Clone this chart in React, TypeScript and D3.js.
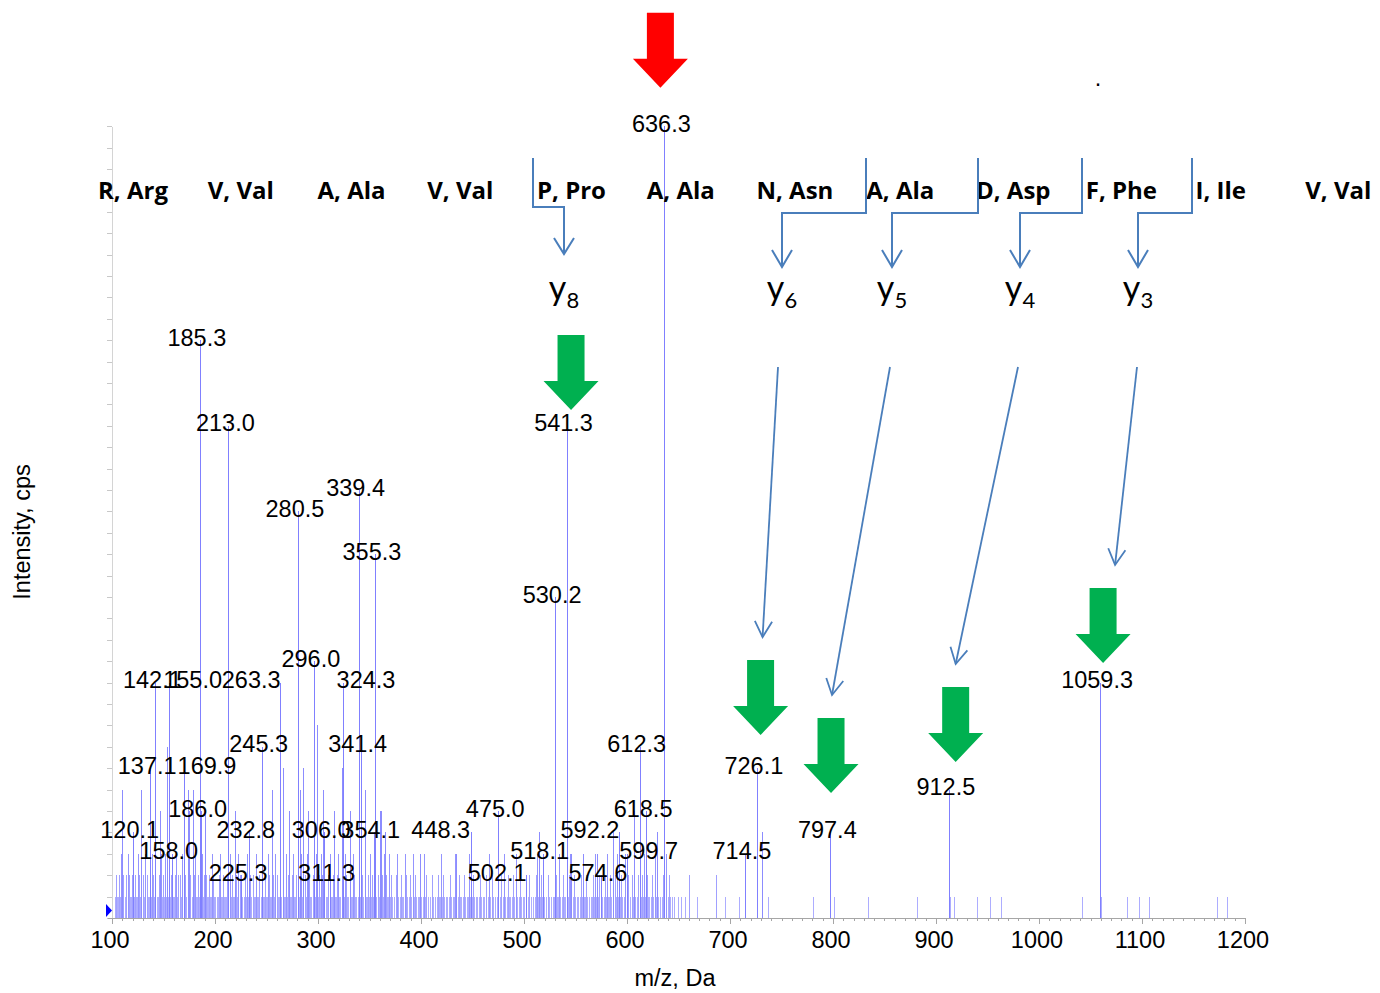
import React from "react";
import * as d3 from "d3";

// Labelled fragment peaks: [m/z, intensity in counts]
const labeledPeaks: [number, number][] = [
  [120.1, 4], [137.1, 7], [142.1, 11], [155.0, 11], [158.0, 3], [169.9, 7],
  [185.3, 27], [186.0, 5], [213.0, 23], [225.3, 2], [232.8, 4], [245.3, 8],
  [263.3, 11], [280.5, 19], [296.0, 12], [306.0, 4], [311.3, 2], [324.3, 11],
  [339.4, 20], [341.4, 8], [354.1, 4], [355.3, 17], [448.3, 4], [475.0, 5],
  [502.1, 2], [518.1, 3], [530.2, 15], [541.3, 23], [574.6, 2], [592.2, 4],
  [599.7, 3], [612.3, 8], [618.5, 5], [636.3, 37], [714.5, 3], [726.1, 7],
  [797.4, 4], [912.5, 6], [1059.3, 11],
];

// Unlabelled mid-size peaks: [m/z, counts]
const minorPeaks: [number, number][] = [
  [109.4, 6], [128.2, 6], [146.6, 5], [153.5, 8], [173.4, 6], [175.2, 5],
  [178.6, 6], [190.4, 5], [219.0, 5], [255.3, 6], [266.1, 7], [271.8, 5],
  [283.0, 6], [285.8, 7], [290.6, 5], [298.7, 9], [304.4, 6], [316.0, 5],
  [323.1, 7], [330.6, 5], [346.0, 6], [360.2, 5], [361.2, 5], [365.2, 4],
  [399.0, 3], [434.0, 3], [515.0, 4], [546.0, 3], [557.0, 3], [570.6, 3],
  [586.6, 4], [606.5, 5], [629.0, 4], [730.8, 4],
];

// Baseline noise, one count high
const noise1: number[] = [
  103.1, 104.6, 105.9, 107.3, 108.2, 109.8, 111.0, 112.4, 113.9, 115.1, 116.0, 117.6,
  118.9, 120.5, 121.7, 123.0, 124.2, 125.8, 127.1, 128.3, 129.9, 131.0, 132.2, 133.8,
  135.0, 136.4, 138.0, 139.2, 140.5, 141.7, 143.3, 144.8, 146.0, 147.2, 148.9, 150.1,
  151.4, 152.6, 154.0, 156.3, 157.5, 159.0, 160.4, 161.6, 163.1, 164.3, 165.8, 167.0,
  168.4, 170.8, 172.0, 173.5, 174.7, 176.2, 177.4, 178.9, 180.1, 181.5, 182.8, 184.2,
  187.1, 188.3, 189.6, 190.9, 192.3, 193.5, 195.0, 196.2, 197.7, 198.9, 200.3, 201.5,
  202.9, 204.2, 205.6, 206.8, 208.3, 209.5, 210.8, 212.1, 214.4, 215.7, 217.0, 218.4,
  219.6, 221.1, 222.3, 223.8, 226.5, 227.9, 229.2, 230.4, 231.7, 234.0, 235.3, 236.7,
  238.0, 239.2, 240.6, 241.9, 243.1, 244.4, 246.6, 247.9, 249.3, 250.5, 251.8, 253.2,
  254.4, 255.9, 257.1, 258.4, 259.8, 261.0, 262.2, 264.5, 265.8, 267.1, 268.3, 269.8,
  271.0, 272.4, 273.6, 275.1, 276.3, 277.7, 279.0, 281.7, 283.0, 284.2, 285.6, 286.9,
  288.1, 289.5, 290.8, 292.2, 293.4, 294.7, 297.3, 298.6, 299.9, 301.1, 302.4, 303.8,
  305.0, 307.3, 308.6, 309.9, 312.5, 313.8, 315.0, 316.4, 317.6, 319.0, 320.3, 321.5,
  322.9, 325.6, 326.9, 328.1, 329.5, 330.7, 332.0, 333.4, 334.6, 336.0, 337.2, 338.5,
  340.6, 342.7, 344.0, 345.3, 346.6, 347.9, 349.2, 350.5, 351.8, 353.0, 356.5, 357.8,
  359.1, 360.4, 361.7, 363.0, 364.3, 365.6, 367.0, 368.4, 370.1, 372.3, 374.0, 376.2,
  377.8, 379.5, 381.6, 383.0, 384.9, 386.4, 388.3, 390.0, 391.8, 393.2, 395.1, 396.7,
  398.4, 400.3, 401.9, 403.6, 405.2, 406.8, 408.7, 410.3, 412.0, 413.8, 415.4, 417.1,
  418.9, 420.5, 422.2, 423.9, 425.6, 427.3, 429.0, 430.8, 432.4, 434.1, 435.9, 437.5,
  439.2, 440.9, 442.6, 444.3, 446.0, 447.6, 449.7, 451.4, 453.1, 454.8, 456.5, 458.2,
  459.9, 461.6, 463.3, 465.0, 466.8, 468.5, 470.2, 471.9, 473.6, 476.4, 478.1, 479.8,
  481.6, 483.3, 485.0, 486.7, 488.4, 490.2, 491.9, 493.6, 495.3, 497.0, 498.7, 500.4,
  503.6, 505.3, 507.0, 508.7, 510.5, 512.2, 513.9, 515.6, 517.0, 519.5, 521.2, 522.9,
  524.6, 526.3, 528.0, 529.4, 531.6, 533.3, 535.0, 536.7, 538.4, 540.1, 542.5, 544.2,
  545.9, 547.6, 549.3, 551.0, 552.7, 554.4, 556.1, 557.8, 559.5, 561.2, 562.9, 564.6,
  566.3, 568.0, 569.7, 571.4, 573.1, 576.0, 577.7, 579.4, 581.1, 582.8, 584.5, 586.2,
  587.9, 589.6, 591.0, 593.5, 595.2, 596.9, 598.3, 601.2, 602.9, 604.6, 606.3, 608.0,
  609.7, 611.1, 613.6, 615.3, 617.0, 620.1, 621.8, 623.5, 625.2, 626.9, 628.6, 630.3,
  632.0, 633.8, 635.4, 638.0, 639.7, 641.4, 643.4, 645.6, 649.5, 652.8, 656.1, 668.0,
  695.1, 708.7, 736.9, 780.3, 801.0, 834.0, 881.6, 913.6, 917.5, 940.1, 952.4, 963.1,
  1042.0, 1059.9, 1085.7, 1097.4, 1107.1, 1172.5, 1182.2,
];

// Baseline noise, two counts high
const noise2: number[] = [
  104.0, 106.8, 110.5, 113.2, 116.9, 119.3, 122.4, 126.6, 130.3, 134.1, 136.9, 140.0,
  145.5, 149.4, 153.3, 157.0, 160.9, 163.9, 166.5, 171.3, 175.6, 179.8, 183.5, 188.9,
  191.7, 194.3, 198.0, 203.6, 207.3, 211.4, 216.2, 220.1, 224.6, 228.8, 233.5, 237.1,
  242.5, 248.3, 252.6, 256.5, 260.2, 266.4, 270.5, 274.3, 278.4, 282.3, 287.5, 291.4,
  295.1, 300.5, 304.3, 310.1, 314.4, 318.2, 323.4, 327.5, 331.3, 335.4, 343.2, 348.5,
  352.2, 358.0, 362.5, 366.1, 371.3, 375.6, 380.4, 385.7, 389.2, 394.0, 399.5, 404.5,
  410.9, 416.2, 421.4, 428.1, 436.5, 441.8, 450.3, 457.4, 462.7, 469.3, 477.2, 484.1,
  489.5, 496.1, 504.4, 511.3, 516.8, 523.6, 530.9, 537.5, 543.6, 548.5, 555.1, 560.6,
  567.2, 572.4, 578.3, 583.7, 588.7, 594.4, 600.5, 605.3, 610.2, 614.7, 619.4, 624.4,
  629.5, 634.5, 640.8, 660.2, 686.1,
];

// Baseline noise, three counts high
const noise3: number[] = [
  108.8, 115.6, 124.9, 131.8, 138.6, 147.8, 151.9, 162.5, 167.7, 174.2, 181.0, 187.6,
  196.8, 205.1, 214.9, 222.8, 231.0, 239.8, 251.1, 257.8, 268.9, 276.0, 283.8, 289.0,
  298.2, 303.1, 311.9, 319.8, 326.3, 333.9, 345.8, 350.0, 363.6, 368.9, 376.9, 384.2,
  392.5, 402.7, 419.3, 433.2, 447.0, 465.8, 481.0, 492.7, 512.9, 533.9, 545.0, 557.5,
  569.0, 580.2, 590.6, 597.6, 607.1, 616.4, 627.4, 637.6,
];

const residues = [
  "R, Arg", "V, Val", "A, Ala", "V, Val", "P, Pro", "A, Ala",
  "N, Asn", "A, Ala", "D, Asp", "F, Phe", "I, Ile", "V, Val",
];

const xTickValues = [100, 200, 300, 400, 500, 600, 700, 800, 900, 1000, 1100, 1200];

// Label offsets where neighbouring peak labels collide
const labelNudge: Record<string, number> = {
  "155.0": 27, "169.9": 26, "263.3": -26, "324.3": 26,
  "448.3": -27, "502.1": -26, "592.2": -26, "599.7": 25,
};

// Block arrows over highlighted peaks: tip height in counts, x shift in px
const blockArrows = [
  { mz: 636.3, tip: 38.8, dx: -4, color: "#ff0000" },
  { mz: 541.3, tip: 23.74, dx: 4.5, color: "#00b050" },
  { mz: 726.1, tip: 8.55, dx: 3.7, color: "#00b050" },
  { mz: 797.4, tip: 5.84, dx: 0.7, color: "#00b050" },
  { mz: 912.5, tip: 7.29, dx: 6.8, color: "#00b050" },
  { mz: 1059.3, tip: 11.92, dx: 3, color: "#00b050" },
];

// y-ion brackets: bracket post x, target x, linked peak
const yIons = [
  { n: "8", post: 533, target: 564, peak: 541.3, kind: "right" },
  { n: "6", post: 866, target: 782, peak: 726.1, kind: "left", s: -4, e: 2 },
  { n: "5", post: 978, target: 892, peak: 797.4, kind: "left", s: -2, e: 1 },
  { n: "4", post: 1082, target: 1020, peak: 912.5, kind: "left", s: -2, e: 0 },
  { n: "3", post: 1192, target: 1138, peak: 1059.3, kind: "left", s: -1, e: 12 },
];

const W = 1380;
const H = 993;
const NUM_FONT = "'Liberation Sans', Arial, sans-serif";
const SEQ_FONT = "'Open Sans', Lato, sans-serif";
const ION_FONT = "Lato, 'Open Sans', sans-serif";
const BLUE_LINE = "#4a7ebb";

const x = d3.scaleLinear().domain([100, 1200]).range([112, 1245]);
const y = d3.scaleLinear().domain([0, 37]).range([918, 918 - 37 * 21.4]);

const SHAFT_W = 27;
const SHAFT_H = 46;
const HEAD_W = 55;
const HEAD_H = 29;

function blockArrowPath(cx: number, tipY: number) {
  const headTop = tipY - HEAD_H;
  const top = headTop - SHAFT_H;
  const p = d3.path();
  p.moveTo(cx - SHAFT_W / 2, top);
  p.lineTo(cx + SHAFT_W / 2, top);
  p.lineTo(cx + SHAFT_W / 2, headTop);
  p.lineTo(cx + HEAD_W / 2, headTop);
  p.lineTo(cx, tipY);
  p.lineTo(cx - HEAD_W / 2, headTop);
  p.lineTo(cx - SHAFT_W / 2, headTop);
  p.closePath();
  return p.toString();
}

function chevron(x1: number, y1: number, x2: number, y2: number, len = 18, spread = 0.5) {
  const a = Math.atan2(y2 - y1, x2 - x1);
  const l = [x2 - len * Math.cos(a - spread), y2 - len * Math.sin(a - spread)];
  const r = [x2 - len * Math.cos(a + spread), y2 - len * Math.sin(a + spread)];
  return `M${l[0]},${l[1]} L${x2},${y2} L${r[0]},${r[1]}`;
}

function Sticks({ data, color }: { data: [number, number][]; color: string }) {
  return (
    <g stroke={color} strokeWidth={1} shapeRendering="crispEdges">
      {data.map(([mz, c], i) => {
        const px = Math.round(x(mz)) + 0.5;
        return <line key={i} x1={px} x2={px} y1={y(0)} y2={y(c)} />;
      })}
    </g>
  );
}

export default function App() {
  const minorTicks = d3.range(100, 1201, 10);
  const yTicks = y.ticks(37);
  const arrowByMz = new Map(blockArrows.map((a) => [a.mz, a]));

  return (
    <svg
      width={W}
      height={H}
      viewBox={`0 0 ${W} ${H}`}
      style={{ position: "absolute", left: 0, top: 0, background: "#fff" }}
    >
      {/* y axis */}
      <line x1={112.5} x2={112.5} y1={127} y2={918} stroke="#d4d4d4" strokeWidth={1} />
      <g stroke="#c8c8c8" shapeRendering="crispEdges">
        {yTicks.map((t) => (
          <line key={t} x1={107} x2={112} y1={Math.round(y(t)) + 0.5} y2={Math.round(y(t)) + 0.5} />
        ))}
      </g>

      {/* spectrum */}
      <Sticks data={noise1.map((m) => [m, 1] as [number, number])} color="#adadff" />
      <Sticks data={noise2.map((m) => [m, 2] as [number, number])} color="#a0a0ff" />
      <Sticks data={noise3.map((m) => [m, 3] as [number, number])} color="#9494ff" />
      <Sticks data={minorPeaks} color="#8c8cff" />
      <Sticks data={labeledPeaks} color="#8080ff" />

      {/* x axis */}
      <line x1={108} x2={1245} y1={918.5} y2={918.5} stroke="#a6a6a6" strokeWidth={1} />
      <g stroke="#a6a6a6" shapeRendering="crispEdges">
        {minorTicks.map((t) => (
          <line
            key={t}
            x1={Math.round(x(t)) + 0.5}
            x2={Math.round(x(t)) + 0.5}
            y1={918}
            y2={t % 100 === 0 ? 924 : 921}
          />
        ))}
      </g>
      <g fontFamily={NUM_FONT} fontSize={23.5} fill="#000" textAnchor="middle">
        {xTickValues.map((t) => (
          <text key={t} x={x(t) - 2} y={947.5}>
            {t}
          </text>
        ))}
        <text x={675} y={986}>m/z, Da</text>
      </g>
      <text
        fontFamily={NUM_FONT}
        fontSize={23.5}
        textAnchor="middle"
        transform="translate(30,532) rotate(-90)"
      >
        Intensity, cps
      </text>
      <path d="M106,904 L112,910.5 L106,917 Z" fill="#0000ff" />

      {/* peak labels */}
      <g fontFamily={NUM_FONT} fontSize={23.5} fill="#000" textAnchor="middle">
        {labeledPeaks.map(([mz, c]) => {
          const key = mz.toFixed(1);
          return (
            <text key={key} x={x(mz) - 3 + (labelNudge[key] ?? 0)} y={y(c) + 5.5}>
              {key}
            </text>
          );
        })}
      </g>
      <text x={1098} y={86} fontFamily={NUM_FONT} fontSize={23.5} textAnchor="middle">.</text>

      {/* block arrows */}
      {blockArrows.map((a) => (
        <path key={a.mz} d={blockArrowPath(x(a.mz) + a.dx, y(a.tip))} fill={a.color} />
      ))}

      {/* peptide sequence */}
      <g fontFamily={SEQ_FONT} fontWeight={700} fontSize={24} fill="#000">
        {residues.map((r, i) => (
          <text key={i} x={98 + i * 109.75} y={199}>
            {r}
          </text>
        ))}
      </g>

      {/* y-ion brackets */}
      <g fill="none" stroke={BLUE_LINE} strokeWidth={2}>
        {yIons.map((ion) => {
          if (ion.kind === "right") {
            return (
              <g key={ion.n}>
                <path d={`M${ion.post},158 V207 H${ion.target} V254`} />
                <path d={`M${ion.target - 10},238 L${ion.target},254 L${ion.target + 10},238`} />
              </g>
            );
          }
          const a = arrowByMz.get(ion.peak)!;
          const cx = x(a.mz) + a.dx;
          const top = y(a.tip) - HEAD_H - SHAFT_H;
          const sx = ion.target + (ion.s ?? 0);
          const sy = 367;
          const ex = cx + (ion.e ?? 0);
          const ey = top - 23;
          return (
            <g key={ion.n}>
              <path d={`M${ion.post},158 V213 H${ion.target} V267`} />
              <path d={`M${ion.target - 10},250 L${ion.target},267 L${ion.target + 10},250`} />
              <path d={`M${sx},${sy} L${ex},${ey}`} strokeWidth={1.8} />
              <path d={chevron(sx, sy, ex, ey)} strokeWidth={1.8} />
            </g>
          );
        })}
      </g>
      <g fontFamily={ION_FONT} fill="#000" textAnchor="middle">
        {yIons.map((ion) => (
          <text key={ion.n} x={ion.target} y={300} fontSize={34}>
            y
            <tspan fontSize={22} dy={8}>
              {ion.n}
            </tspan>
          </text>
        ))}
      </g>
    </svg>
  );
}
